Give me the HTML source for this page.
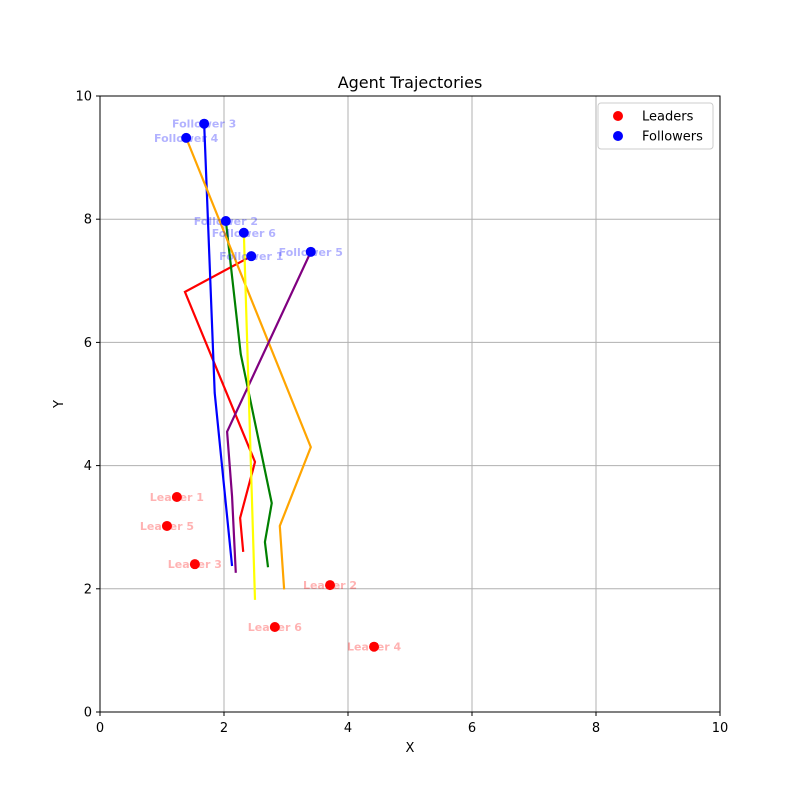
<!DOCTYPE html>
<html><head><meta charset="utf-8"><style>
body{margin:0;background:#fff}
svg{font-family:"DejaVu Sans","Liberation Sans",sans-serif}
</style></head><body>
<svg id="chart" width="800" height="800">
<rect width="800" height="800" fill="#fff"/>
<g id="grid"></g>
<g id="lines"></g>
<g id="points"></g>
<rect x="100" y="96" width="620" height="616" fill="none" stroke="#000" stroke-width="1"/>
<g id="ticks"></g>
<text x="410" y="88" text-anchor="middle" font-size="16">Agent Trajectories</text>
<text x="410" y="752" text-anchor="middle" font-size="13">X</text>
<text x="63" y="404" text-anchor="middle" font-size="13" transform="rotate(-90 63 404)">Y</text>
<g>
<rect x="598" y="103" width="115" height="46" rx="3" fill="#fff" stroke="#ccc"/>
<circle cx="618" cy="116" r="5" fill="red"/>
<text x="642" y="120.5" font-size="13">Leaders</text>
<circle cx="618" cy="136" r="5" fill="blue"/>
<text x="642" y="140.5" font-size="13">Followers</text>
</g>
</svg>
<script>
const xTicks=[0,2,4,6,8,10];
const yTicks=[0,2,4,6,8,10];
const trajColors=["red","green","blue","orange","purple","yellow"];
const traj1=[[2.44,7.40],[1.37,6.82],[2.50,4.06],[2.26,3.15],[2.31,2.60]];
const traj2=[[2.03,7.97],[2.27,5.81],[2.77,3.39],[2.66,2.76],[2.71,2.35]];
const traj3=[[1.68,9.55],[1.85,5.18],[2.13,2.37]];
const traj4=[[1.39,9.32],[3.40,4.30],[2.90,3.02],[2.97,1.99]];
const traj5=[[3.40,7.47],[2.05,4.55],[2.13,3.5],[2.19,2.26]];
const traj6=[[2.32,7.78],[2.50,1.82]];
const leaderNames=["Leader 1","Leader 2","Leader 3","Leader 4","Leader 5","Leader 6"];
const leaderX=[1.24,3.71,1.53,4.42,1.08,2.82];
const leaderY=[3.49,2.06,2.40,1.06,3.02,1.38];
const followerNames=["Follower 1","Follower 2","Follower 3","Follower 4","Follower 5","Follower 6"];
const followerX=[2.44,2.03,1.68,1.39,3.40,2.32];
const followerY=[7.40,7.97,9.55,9.32,7.47,7.78];
const NS="http://www.w3.org/2000/svg";
const sx=v=>100+v*62, sy=v=>712-v*61.6;
function mk(t,p,a){const e=document.createElementNS(NS,t);for(const k in a)e.setAttribute(k,a[k]);p.appendChild(e);return e;}
const grid=document.getElementById('grid'),ticks=document.getElementById('ticks');
xTicks.forEach(v=>{
 const g=mk('line',grid,{x1:sx(v),x2:sx(v),y1:96,y2:712,stroke:'#b0b0b0','stroke-width':1});
 
 
 mk('line',ticks,{x1:sx(v),x2:sx(v),y1:712,y2:716,stroke:'#000'});
 const t=mk('text',ticks,{x:sx(v),y:732,'text-anchor':'middle','font-size':13});
 t.textContent=v;
 
 
});
yTicks.forEach(v=>{
 const g=mk('line',grid,{x1:100,x2:720,y1:sy(v),y2:sy(v),stroke:'#b0b0b0','stroke-width':1});
 
 
 mk('line',ticks,{x1:96,x2:100,y1:sy(v),y2:sy(v),stroke:'#000'});
 const t=mk('text',ticks,{x:92,y:sy(v)+4.5,'text-anchor':'end','font-size':13});
 t.textContent=v;
 
 
});
const lines=document.getElementById('lines');
[traj1,traj2,traj3,traj4,traj5,traj6].forEach((tr,i)=>{
 const p=mk('polyline',lines,{points:tr.map(d=>sx(d[0])+','+sy(d[1])).join(' '),fill:'none',stroke:trajColors[i],'stroke-width':2.2,'stroke-linejoin':'miter'});
 
 
});
const pts=document.getElementById('points');
function drawPts(xs,ys,names,col,lab){
 xs.forEach((x,i)=>{
  const c=mk('circle',pts,{cx:sx(x),cy:sy(ys[i]),r:5,fill:col});
  
  
 });
 xs.forEach((x,i)=>{
  const t=mk('text',pts,{x:sx(x),y:sy(ys[i])+4,'text-anchor':'middle','font-size':11,'font-weight':'bold',fill:lab});
  t.textContent=names[i];
  
  
 });
}
drawPts(leaderX,leaderY,leaderNames,'red','rgba(255,0,0,0.3)');
drawPts(followerX,followerY,followerNames,'blue','rgba(0,0,255,0.3)');
</script>
</body></html>
